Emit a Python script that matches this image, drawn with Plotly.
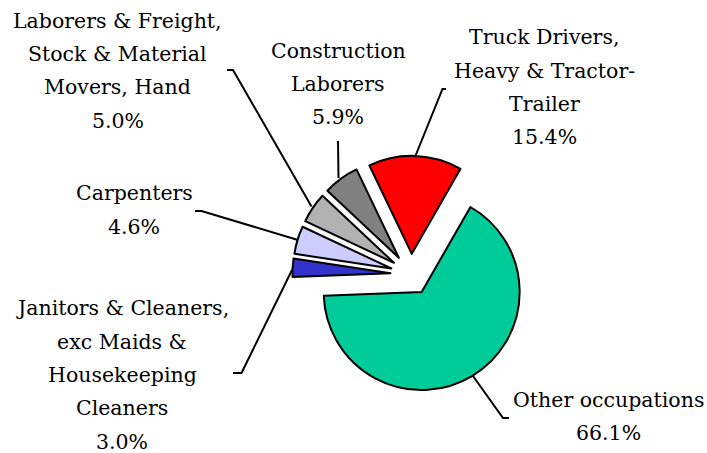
import plotly.graph_objects as go

W, H = 707, 453

occupations = [
    "Truck Drivers, Heavy & Tractor-Trailer",
    "Other occupations",
    "Janitors & Cleaners, exc Maids & Housekeeping Cleaners",
    "Carpenters",
    "Laborers & Freight, Stock & Material Movers, Hand",
    "Construction Laborers",
]
label_lines = [
    ["Truck Drivers,", "Heavy & Tractor-", "Trailer"],
    ["Other occupations"],
    ["Janitors & Cleaners,", "exc Maids &", "Housekeeping", "Cleaners"],
    ["Carpenters"],
    ["Laborers & Freight,", "Stock & Material", "Movers, Hand"],
    ["Construction", "Laborers"],
]
shares = [15.4, 66.1, 3.0, 4.6, 5.0, 5.9]
colors = ["#FF0000", "#00CC99", "#3333CC", "#CCCCFF", "#B2B2B2", "#808080"]

# label block: (centre x, first line y) in px; leader line paths in px
label_pos = [(544, 37.5), (608, 400), (122, 308.3), (134, 193.3), (117.5, 20.8), (338, 50.8)]
LINE_GAP = 33.3
leaders = [
    [(446, 89), (442.5, 89), (415, 157)],
    [(473, 376), (503, 418), (509, 418)],
    [(233, 373), (241.5, 373), (292, 270)],
    [(195, 211), (201.5, 211), (298, 240)],
    [(227, 70), (233, 70), (311.5, 206.5)],
    [(338, 141), (338.5, 178)],
]

def px(x):
    return x / W

def py(y):
    return 1 - y / H

cx, cy, r, pull = 411, 274.4, 98, 0.21
half = r * (1 + pull)

FONT = "DejaVu Serif"

fig = go.Figure(go.Pie(
    labels=occupations,
    values=shares,
    sort=False,
    direction="clockwise",
    rotation=-25.6,
    pull=[pull] * len(shares),
    marker=dict(colors=colors, line=dict(color="black", width=2)),
    textinfo="none",
    hoverinfo="label+percent",
    showlegend=False,
    domain=dict(x=[px(cx - half), px(cx + half)], y=[py(cy + half), py(cy - half)]),
))

annotations = []
for lines, v, (lx, ly) in zip(label_lines, shares, label_pos):
    for i, t in enumerate(lines + [f"{v:.1f}%"]):
        annotations.append(dict(
            x=px(lx), y=py(ly + i * LINE_GAP), xref="paper", yref="paper",
            xanchor="center", yanchor="middle", showarrow=False,
            text=t,
            font=dict(family=FONT, size=20.5, color="black"),
            align="center",
        ))

shapes = []
for path in leaders:
    d = "M " + " L ".join(f"{px(x)},{py(y)}" for x, y in path)
    shapes.append(dict(type="path", path=d, xref="paper", yref="paper",
                       line=dict(color="black", width=2)))

fig.update_layout(
    width=W, height=H,
    margin=dict(l=0, r=0, t=0, b=0),
    paper_bgcolor="white", plot_bgcolor="white",
    font=dict(family=FONT, color="black"),
    annotations=annotations, shapes=shapes,
)

fig.write_html("out.html", config={"displayModeBar": False},
               post_script="document.body.style.margin='0';document.body.style.padding='0';")
